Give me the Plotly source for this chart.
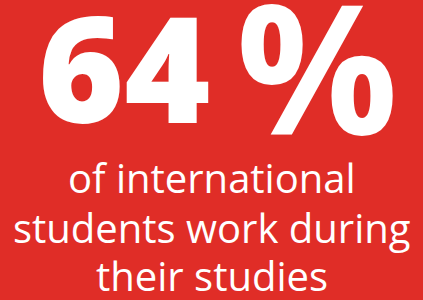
import plotly.graph_objects as go

value = 64
value_suffix = "%"
caption_lines = ["of international", "students work during", "their studies"]

bg = "#E02D27"

fig = go.Figure()
fig.add_annotation(
    x=0.293, y=300 - 66, xref="paper", yref="y",
    text=f"{value}",
    showarrow=False, xanchor="center", yanchor="middle",
    font=dict(family="Open Sans", size=147, color="white", weight=800),
)
fig.add_annotation(
    x=0.75, y=300 - 64, xref="paper", yref="y",
    text=value_suffix,
    showarrow=False, xanchor="center", yanchor="middle",
    font=dict(family="Open Sans", size=180, color="white", weight=700),
)
centers = [177, 227, 275]
for line, c in zip(caption_lines, centers):
    fig.add_annotation(
        x=0.5, y=300 - c, xref="paper", yref="y",
        text=line, showarrow=False, xanchor="center", yanchor="middle",
        font=dict(family="Open Sans", size=40, color="white"),
    )

fig.update_layout(
    width=423, height=300,
    margin=dict(l=0, r=0, t=0, b=0),
    paper_bgcolor=bg, plot_bgcolor=bg,
    xaxis=dict(visible=False, range=[0, 1]),
    yaxis=dict(visible=False, range=[0, 300]),
    showlegend=False,
)
fig.write_html(
    "out.html",
    config={"displayModeBar": False},
    post_script="document.body.style.margin='0';document.body.style.background='#E02D27';",
)
